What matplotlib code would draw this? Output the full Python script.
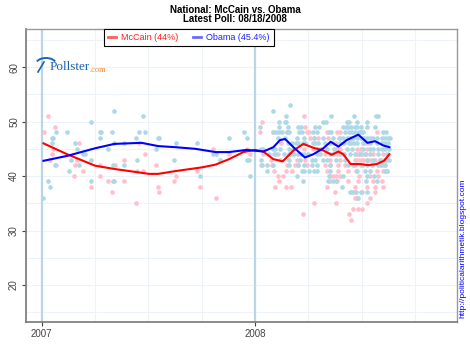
import numpy as np
import matplotlib
matplotlib.use("Agg")
import matplotlib.pyplot as plt
from matplotlib.patches import Arc

plt.rcParams['font.family'] = ['Liberation Sans', 'DejaVu Sans']

# poll results, (value, [dates as decimal years]) per row
obama_polls = [
    (36, [2007.008, 2008.481]),
    (37, [2008.445, 2008.456, 2008.473, 2008.498, 2008.523]),
    (38, [2007.038, 2008.406]),
    (39, [2007.028, 2007.229, 2007.334, 2007.340, 2008.227, 2008.344, 2008.367, 2008.380, 2008.520, 2008.570]),
    (40, [2007.744, 2007.976, 2008.198, 2008.345, 2008.414, 2008.527, 2008.558]),
    (41, [2007.127, 2008.055, 2008.220, 2008.230, 2008.253, 2008.277, 2008.292, 2008.352, 2008.477, 2008.516,
          2008.539, 2008.609, 2008.620]),
    (42, [2007.062, 2007.176, 2007.334, 2007.386, 2008.031, 2008.055, 2008.086, 2008.161, 2008.203, 2008.231,
          2008.266, 2008.292, 2008.352, 2008.438, 2008.461, 2008.495, 2008.523, 2008.547, 2008.578, 2008.594,
          2008.609]),
    (43, [2007.136, 2007.231, 2007.446, 2007.620, 2007.834, 2007.962, 2007.970, 2008.027, 2008.158, 2008.211,
          2008.266, 2008.281, 2008.320, 2008.339, 2008.380, 2008.422, 2008.523, 2008.555, 2008.586, 2008.609,
          2008.630]),
    (44, [2007.195, 2007.204, 2007.802, 2007.816, 2008.064, 2008.088, 2008.098, 2008.136, 2008.158, 2008.167,
          2008.183, 2008.203, 2008.217, 2008.230, 2008.248, 2008.289, 2008.305, 2008.352, 2008.367, 2008.398,
          2008.419, 2008.445, 2008.469, 2008.492, 2008.516, 2008.539, 2008.578, 2008.617]),
    (45, [2007.165, 2007.310, 2007.536, 2008.027, 2008.039, 2008.086, 2008.095, 2008.117, 2008.158, 2008.180,
          2008.289, 2008.336, 2008.370, 2008.430, 2008.453, 2008.508, 2008.539, 2008.555, 2008.578, 2008.594,
          2008.609, 2008.630]),
    (46, [2007.047, 2007.157, 2007.339, 2007.386, 2007.630, 2007.726, 2008.156, 2008.173, 2008.192, 2008.202,
          2008.223, 2008.236, 2008.270, 2008.283, 2008.295, 2008.328, 2008.352, 2008.398, 2008.417, 2008.439,
          2008.452, 2008.464, 2008.478, 2008.508, 2008.539, 2008.570, 2008.594, 2008.609, 2008.625]),
    (47, [2007.047, 2007.052, 2007.272, 2007.443, 2007.544, 2007.549, 2007.878, 2007.962, 2008.106, 2008.141,
          2008.197, 2008.231, 2008.277, 2008.319, 2008.367, 2008.394, 2008.411, 2008.430, 2008.452, 2008.461,
          2008.477, 2008.495, 2008.509, 2008.523, 2008.539, 2008.555, 2008.570, 2008.594, 2008.609, 2008.625,
          2008.633]),
    (48, [2007.068, 2007.116, 2007.272, 2007.277, 2007.331, 2007.454, 2007.483, 2007.946, 2008.083, 2008.098,
          2008.111, 2008.125, 2008.148, 2008.161, 2008.205, 2008.219, 2008.270, 2008.289, 2008.345, 2008.355,
          2008.422, 2008.439, 2008.455, 2008.467, 2008.489, 2008.498, 2008.508, 2008.602, 2008.613]),
    (49, [2008.023, 2008.111, 2008.156, 2008.203, 2008.216, 2008.280, 2008.300, 2008.414, 2008.425, 2008.438,
          2008.452, 2008.467, 2008.478, 2008.495, 2008.527, 2008.563]),
    (50, [2007.229, 2008.111, 2008.139, 2008.145, 2008.319, 2008.333, 2008.431, 2008.439, 2008.477, 2008.527]),
    (51, [2007.475, 2008.145, 2008.355, 2008.464, 2008.567, 2008.575]),
    (52, [2007.339, 2008.086]),
    (53, [2008.166]),
]

mccain_polls = [
    (32, [2008.448]),
    (33, [2008.227, 2008.441]),
    (34, [2008.458, 2008.483, 2008.502]),
    (35, [2007.443, 2008.278, 2008.380, 2008.523]),
    (36, [2007.815, 2008.467, 2008.478, 2008.539]),
    (37, [2007.331, 2007.549, 2008.377, 2008.464, 2008.500, 2008.563]),
    (38, [2007.229, 2007.546, 2007.744, 2008.095, 2008.145, 2008.167, 2008.336, 2008.469, 2008.523, 2008.563,
          2008.602]),
    (39, [2007.310, 2007.386, 2007.620, 2008.114, 2008.352, 2008.383, 2008.438, 2008.484, 2008.552, 2008.594]),
    (40, [2007.150, 2007.272, 2007.630, 2008.109, 2008.130, 2008.352, 2008.364, 2008.378, 2008.398, 2008.489,
          2008.539, 2008.578]),
    (41, [2007.195, 2007.448, 2007.475, 2007.726, 2008.089, 2008.145, 2008.172, 2008.336, 2008.391, 2008.438,
          2008.473, 2008.570, 2008.602, 2008.620]),
    (42, [2007.068, 2007.157, 2007.275, 2007.342, 2007.536, 2008.027, 2008.078, 2008.148, 2008.188, 2008.203,
          2008.245, 2008.330, 2008.352, 2008.388, 2008.422, 2008.469, 2008.508, 2008.550, 2008.586, 2008.609]),
    (43, [2007.038, 2007.165, 2007.386, 2008.073, 2008.117, 2008.195, 2008.234, 2008.352, 2008.398, 2008.467,
          2008.480, 2008.492, 2008.508, 2008.523, 2008.539, 2008.564, 2008.586, 2008.602, 2008.617]),
    (44, [2007.047, 2007.483, 2007.878, 2007.976, 2008.039, 2008.106, 2008.164, 2008.330, 2008.383, 2008.414,
          2008.477, 2008.489, 2008.502, 2008.520, 2008.555, 2008.602]),
    (45, [2007.052, 2007.802, 2007.962, 2008.180, 2008.230, 2008.270, 2008.305, 2008.383, 2008.398, 2008.477,
          2008.495, 2008.523]),
    (46, [2007.176, 2007.454, 2008.123, 2008.367, 2008.380, 2008.511, 2008.523]),
    (47, [2008.258, 2008.277, 2008.295, 2008.344, 2008.398, 2008.439]),
    (48, [2007.009, 2008.023, 2008.083, 2008.148, 2008.242, 2008.255, 2008.336, 2008.383, 2008.398, 2008.492,
          2008.570]),
    (49, [2007.062, 2008.236]),
    (50, [2008.031]),
    (51, [2007.028, 2008.228]),
]

# smoothed trend estimates
mccain_trend_x = [2007.008, 2007.119, 2007.250, 2007.340, 2007.503, 2007.546, 2007.625, 2007.752, 2007.815,
                  2007.878, 2007.945, 2008.000, 2008.039, 2008.086, 2008.130, 2008.180, 2008.227, 2008.273,
                  2008.320, 2008.359, 2008.391, 2008.414, 2008.448, 2008.492, 2008.531, 2008.570, 2008.605,
                  2008.630]
mccain_trend_y = [46.0, 44.0, 41.9, 41.3, 40.4, 40.4, 40.9, 41.6, 42.1, 43.1, 44.4, 44.8, 44.5, 43.1, 42.7,
                  44.7, 45.9, 45.2, 44.7, 43.9, 44.5, 44.0, 42.2, 42.2, 42.0, 42.2, 42.8, 44.0]
obama_trend_x = [2007.008, 2007.119, 2007.250, 2007.340, 2007.467, 2007.546, 2007.625, 2007.720, 2007.815,
                 2007.878, 2007.961, 2008.039, 2008.086, 2008.117, 2008.141, 2008.180, 2008.234, 2008.273,
                 2008.320, 2008.355, 2008.391, 2008.430, 2008.484, 2008.527, 2008.563, 2008.602, 2008.630]
obama_trend_y = [42.8, 43.7, 45.1, 45.9, 46.1, 45.5, 45.3, 45.0, 44.4, 44.4, 44.8, 44.5, 45.3, 46.6, 46.8,
                 45.3, 43.4, 44.0, 45.1, 46.3, 45.4, 46.6, 47.6, 46.1, 46.4, 45.6, 45.3]

year_ticks = [2007, 2008]
pct_ticks = [20, 30, 40, 50, 60]


def unpack(rows):
    xs, ys = [], []
    for val, dates in rows:
        xs += dates
        ys += [val] * len(dates)
    return np.array(xs), np.array(ys)


fig = plt.figure(figsize=(4.7, 3.52), dpi=100)
ax = fig.add_axes([26 / 470, 30 / 352, 431 / 470, 293 / 352])

grid_c = '#eef3f9'
for y in np.arange(15, 70, 5):
    ax.axhline(y, color=grid_c, lw=0.8, zorder=0)
for x in np.arange(2007.25, 2009, 0.25):
    ax.axvline(x, color=grid_c, lw=0.8, zorder=0)
for x in year_ticks:
    ax.axvline(x, color='#b9d5e8', lw=1.6, zorder=0)

ox, oy = unpack(obama_polls)
mx, my = unpack(mccain_polls)
ax.scatter(mx, my, s=11, color='#ffc0cb', lw=0, zorder=2)
ax.scatter(ox, oy, s=11, color='#add8e6', lw=0, zorder=2)

ax.plot(mccain_trend_x, mccain_trend_y, color='red', lw=1.5, zorder=3)
ax.plot(obama_trend_x, obama_trend_y, color='blue', lw=1.5, zorder=3)

# legend handles drawn a bit lighter, like the original
h1, = ax.plot([], [], color='#ff5c5c', lw=2, label='McCain (44%)')
h2, = ax.plot([], [], color='#6a6aff', lw=2, label='Obama (45.4%)')

ax.set_xlim(2006.926, 2008.947)
ax.set_ylim(13.2, 67)
ax.set_xticks(year_ticks)
ax.set_xticklabels([str(y) for y in year_ticks])
ax.set_yticks(pct_ticks)
ax.set_yticklabels([str(v) for v in pct_ticks], rotation=90, va='center')
ax.tick_params(labelsize=7, colors='#444444', length=3, width=0.8, pad=2)

for side in ['left', 'bottom']:
    ax.spines[side].set_color('#777777')
    ax.spines[side].set_linewidth(1.2)
for side in ['top', 'right']:
    ax.spines[side].set_color('#999999')
    ax.spines[side].set_linewidth(1.0)

leg = ax.legend(handles=[h1, h2], loc='upper left', bbox_to_anchor=(0.181, 1.0), borderaxespad=0, ncol=2,
                fontsize=6.5, handlelength=0.9, columnspacing=1.7, handletextpad=0.5, fancybox=False,
                framealpha=1, edgecolor='black', borderpad=0.45)
leg.get_frame().set_linewidth(0.8)
for txt, c in zip(leg.get_texts(), ['#ff2020', '#2020ff']):
    txt.set_color(c)

fig.text(0.5, 0.972, 'National: McCain vs. Obama', ha='center', va='center', fontsize=7, fontweight='bold')
fig.text(0.5, 0.945, 'Latest Poll: 08/18/2008', ha='center', va='center', fontsize=7, fontweight='bold')

# pollster.com logo
fig.text(50 / 470, 1 - 67 / 352, 'Pollster', color='#1f64b0', fontsize=9.5, family='Liberation Serif',
         va='center', ha='left')
fig.text(89 / 470, 1 - 70 / 352, '.com', color='#f08a2a', fontsize=6, family='Liberation Serif',
         va='center', ha='left')
fig.patches.append(Arc((46 / 470, 1 - 64 / 352), 20 / 470, 12 / 352, theta1=20, theta2=160,
                       transform=fig.transFigure, color='#1f64b0', lw=1.4))
fig.lines.append(plt.Line2D([44 / 470, 38 / 470], [1 - 62 / 352, 1 - 72 / 352], transform=fig.transFigure,
                            color='#1f64b0', lw=1.2))

fig.text(463 / 470, 1 - 248 / 352, 'http://politicalarithmetik.blogspot.com', color='blue', fontsize=6,
         rotation=90, ha='center', va='center')

fig.savefig('out.png', dpi=100)
